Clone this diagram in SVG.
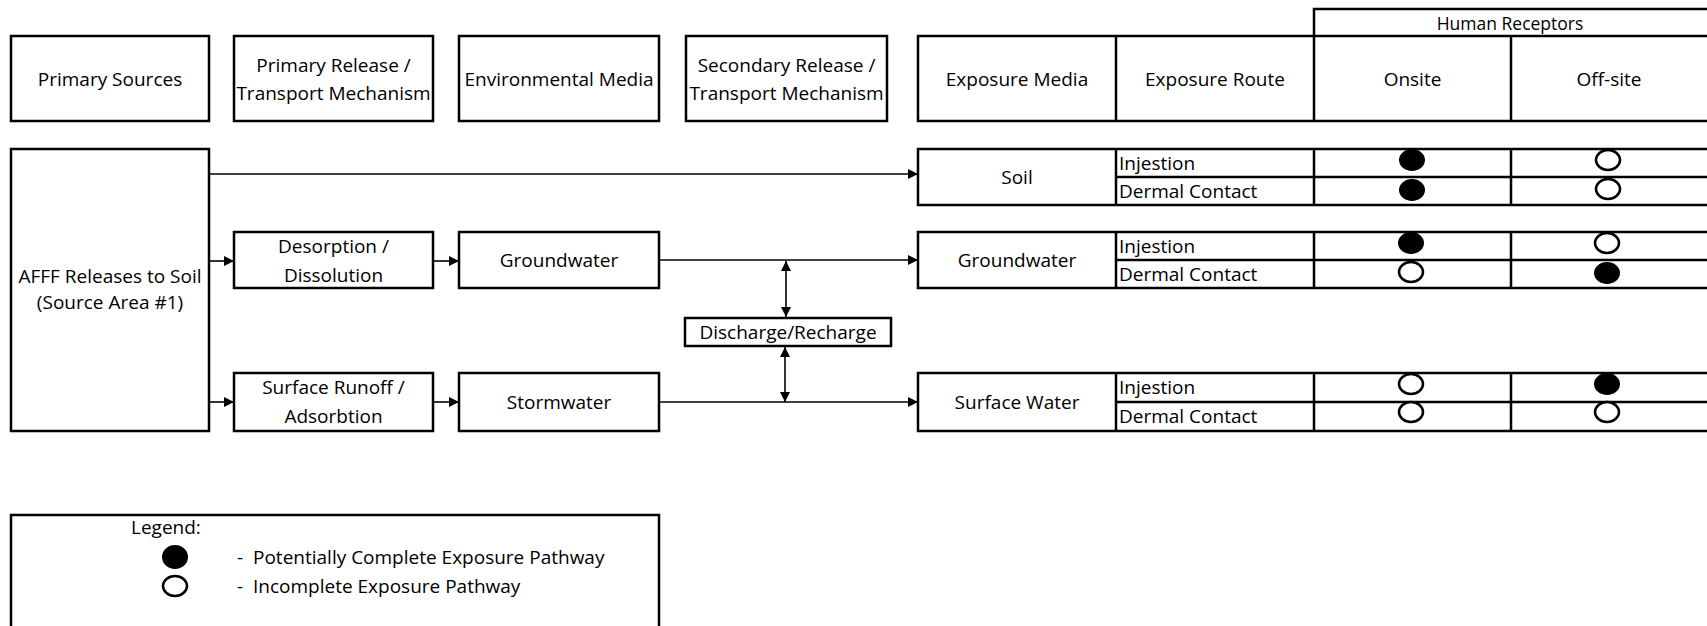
<svg xmlns="http://www.w3.org/2000/svg" width="1707" height="626" viewBox="0 0 1707 626">
<style>
.box{fill:#fff;stroke:#000;stroke-width:2.5}
.ln{stroke:#000;stroke-width:2.5;fill:none}
.cn{stroke:#000;stroke-width:1.6;fill:none}
text{font-family:"Open Sans","Noto Sans",sans-serif;font-size:19px;fill:#000}
.c{text-anchor:middle;dominant-baseline:central}
.l{dominant-baseline:central}
.full{fill:#000;stroke:#000;stroke-width:2}
.empty{fill:#fff;stroke:#000;stroke-width:2.5}
</style>
<defs>
<marker id="ah" viewBox="0 0 10 10" refX="10" refY="5" markerWidth="12" markerHeight="10" markerUnits="userSpaceOnUse" orient="auto-start-reverse">
<path d="M0,0 L10,5 L0,10 z" fill="#000"/>
</marker>
</defs>
<rect width="1707" height="626" fill="#fff"/>

<g id="hdr-primary-sources"><rect class="box" x="11" y="36" width="198" height="85"/><text class="c" x="110" y="79">Primary Sources</text></g>
<g id="hdr-primary-release"><rect class="box" x="234" y="36" width="199" height="85"/><text class="c" x="333.5" y="65">Primary Release /</text><text class="c" x="333.5" y="93">Transport Mechanism</text></g>
<g id="hdr-env-media"><rect class="box" x="459" y="36" width="200" height="85"/><text class="c" x="559" y="79">Environmental Media</text></g>
<g id="hdr-secondary"><rect class="box" x="686" y="36" width="201" height="85"/><text class="c" x="786.5" y="65">Secondary Release /</text><text class="c" x="786.5" y="93">Transport Mechanism</text></g>
<g id="hdr-human-receptors"><path class="ln" d="M1314,36 V9 H1709"/><text class="c" x="1510" y="22.5" style="font-size:17.5px">Human Receptors</text></g>
<g id="hdr-table"><path class="ln" d="M1709,36 H918 V121 H1709 M1116,36 V121 M1314,36 V121 M1511,36 V121"/>
<text class="c" x="1017" y="79">Exposure Media</text><text class="c" x="1215" y="79">Exposure Route</text><text class="c" x="1412.5" y="79">Onsite</text><text class="c" x="1609" y="79">Off-site</text></g>

<g id="afff"><rect class="box" x="11" y="149" width="198" height="282"/><text class="c" x="110" y="276">AFFF Releases to Soil</text><text class="c" x="110" y="302">(Source Area #1)</text></g>
<g id="desorption"><rect class="box" x="234" y="232" width="199" height="56"/><text class="c" x="333.5" y="246">Desorption /</text><text class="c" x="333.5" y="275">Dissolution</text></g>
<g id="groundwater-env"><rect class="box" x="459" y="232" width="200" height="56"/><text class="c" x="559" y="260">Groundwater</text></g>
<g id="surface-runoff"><rect class="box" x="234" y="373" width="199" height="58"/><text class="c" x="333.5" y="387">Surface Runoff /</text><text class="c" x="333.5" y="416">Adsorbtion</text></g>
<g id="stormwater"><rect class="box" x="459" y="373" width="200" height="58"/><text class="c" x="559" y="402">Stormwater</text></g>
<g id="discharge"><rect class="box" x="685" y="318" width="206" height="28"/><text class="c" x="788" y="332">Discharge/Recharge</text></g>

<g id="soil-row"><path class="ln" d="M1709,149 H918 V205 H1709 M1116,149 V205 M1314,149 V205 M1511,149 V205 M1116,177 H1709"/>
<text class="c" x="1017" y="177">Soil</text><text class="l" x="1119" y="163">Injestion</text><text class="l" x="1119" y="191">Dermal Contact</text>
<ellipse class="full" cx="1412" cy="160" rx="12" ry="10"/><ellipse class="empty" cx="1608" cy="160" rx="12" ry="10"/>
<ellipse class="full" cx="1412" cy="190" rx="12" ry="10"/><ellipse class="empty" cx="1608" cy="189" rx="12" ry="10"/></g>

<g id="gw-row"><path class="ln" d="M1709,232 H918 V288 H1709 M1116,232 V288 M1314,232 V288 M1511,232 V288 M1116,260 H1709"/>
<text class="c" x="1017" y="260">Groundwater</text><text class="l" x="1119" y="246">Injestion</text><text class="l" x="1119" y="274">Dermal Contact</text>
<ellipse class="full" cx="1411" cy="243" rx="12" ry="10"/><ellipse class="empty" cx="1607" cy="243" rx="12" ry="10"/>
<ellipse class="empty" cx="1411" cy="272" rx="12" ry="10"/><ellipse class="full" cx="1607" cy="273" rx="12" ry="10"/></g>

<g id="sw-row"><path class="ln" d="M1709,373 H918 V431 H1709 M1116,373 V431 M1314,373 V431 M1511,373 V431 M1116,402 H1709"/>
<text class="c" x="1017" y="402">Surface Water</text><text class="l" x="1119" y="387">Injestion</text><text class="l" x="1119" y="416">Dermal Contact</text>
<ellipse class="empty" cx="1411" cy="384" rx="12" ry="10"/><ellipse class="full" cx="1607" cy="384" rx="12" ry="10"/>
<ellipse class="empty" cx="1411" cy="412" rx="12" ry="10"/><ellipse class="empty" cx="1607" cy="412" rx="12" ry="10"/></g>

<g id="connectors">
<line class="cn" x1="209" y1="174" x2="918" y2="174" marker-end="url(#ah)"/>
<line class="cn" x1="209" y1="261" x2="234" y2="261" marker-end="url(#ah)"/>
<line class="cn" x1="433" y1="261" x2="459" y2="261" marker-end="url(#ah)"/>
<line class="cn" x1="659" y1="260" x2="918" y2="260" marker-end="url(#ah)"/>
<line class="cn" x1="209" y1="402" x2="234" y2="402" marker-end="url(#ah)"/>
<line class="cn" x1="433" y1="402" x2="459" y2="402" marker-end="url(#ah)"/>
<line class="cn" x1="659" y1="402" x2="918" y2="402" marker-end="url(#ah)"/>
<line class="cn" x1="786" y1="261" x2="786" y2="317" marker-start="url(#ah)" marker-end="url(#ah)"/>
<line class="cn" x1="785" y1="347" x2="785" y2="402" marker-start="url(#ah)" marker-end="url(#ah)"/>
</g>

<g id="legend"><path class="ln" d="M11,640 V515 H659 V640"/>
<text class="l" x="131" y="527">Legend:</text>
<ellipse class="full" cx="175" cy="557" rx="12" ry="11"/><text class="l" x="237" y="557">-</text><text class="l" x="253" y="557">Potentially Complete Exposure Pathway</text>
<ellipse class="empty" cx="175" cy="586" rx="12" ry="10"/><text class="l" x="237" y="586">-</text><text class="l" x="253" y="586">Incomplete Exposure Pathway</text></g>
</svg>
